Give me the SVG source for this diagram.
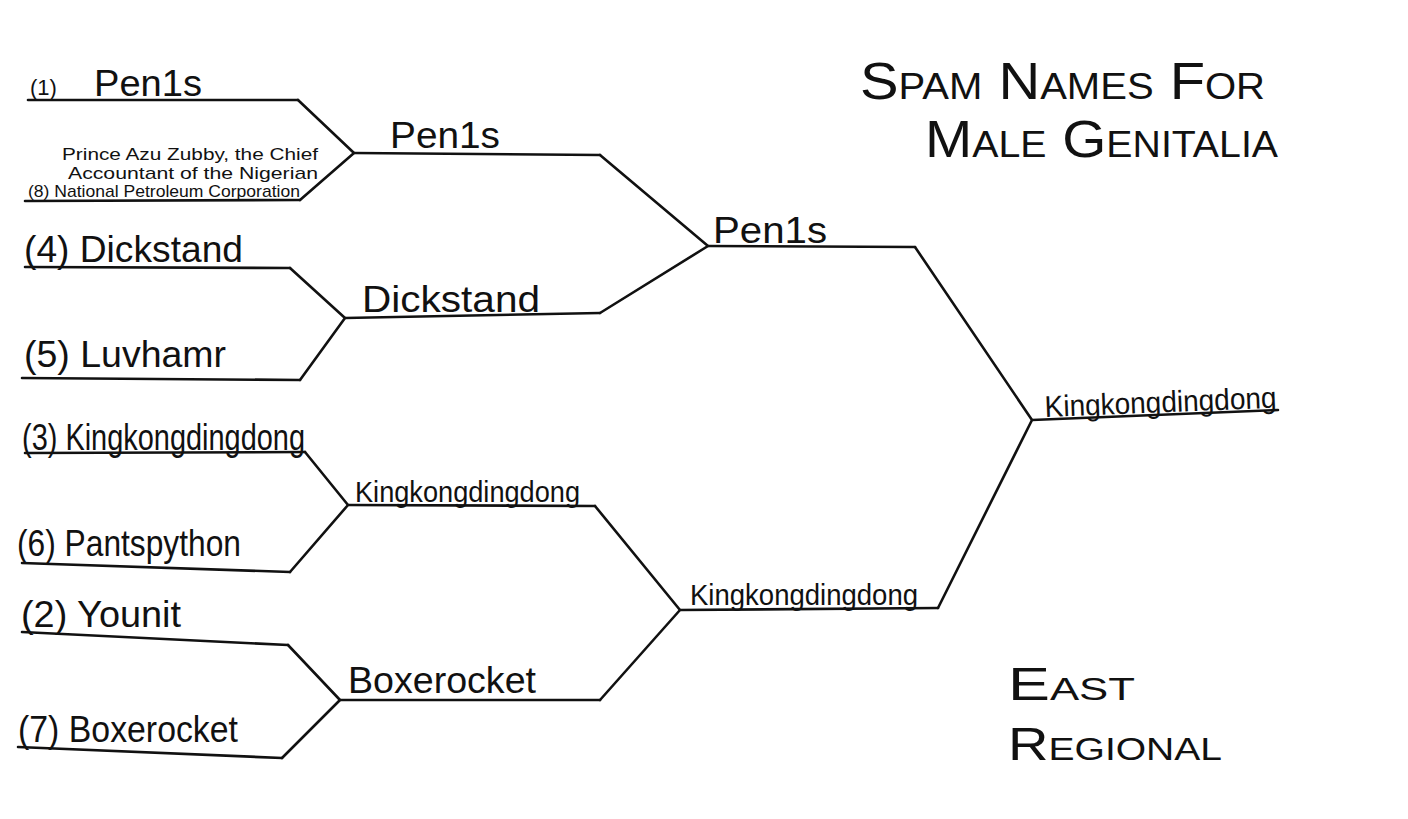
<svg xmlns="http://www.w3.org/2000/svg" width="1408" height="819" viewBox="0 0 1408 819">
<style>
.bg{fill:#ffffff}
.ln{fill:none;stroke:#111;stroke-width:2.6;stroke-linecap:round;stroke-linejoin:round}
.t{font-family:"Liberation Sans","DejaVu Sans",sans-serif;fill:#111}
.seed{font-size:22px}
.big{font-size:36px}
.mid{font-size:30px}
.sm{font-size:17px}
.title{font-size:52px;font-variant:small-caps}
.sub{font-size:46px;font-variant:small-caps}
</style>
<rect class="bg" x="0" y="0" width="1408" height="819"/>
<g id="title">
<text class="t title" x="860" y="99" textLength="405" lengthAdjust="spacingAndGlyphs">Spam Names For</text>
<text class="t title" x="925" y="157" textLength="353" lengthAdjust="spacingAndGlyphs">Male Genitalia</text>
</g>
<g id="region">
<text class="t sub" x="1008" y="700" textLength="127" lengthAdjust="spacingAndGlyphs">East</text>
<text class="t sub" x="1008" y="760" textLength="214" lengthAdjust="spacingAndGlyphs">Regional</text>
</g>
<g id="connectors">
<path class="ln" d="M298,100 L354,153 L300,200"/>
<path class="ln" d="M290,268 L345,318 L300,380"/>
<path class="ln" d="M305,452 L348,505 L290,572"/>
<path class="ln" d="M288,645 L340,700 L282,758"/>
<path class="ln" d="M600,155 L708,246 L600,313"/>
<path class="ln" d="M595,506 L680,610 L600,700"/>
<path class="ln" d="M915,247 L1032,420 L938,608"/>
</g>
<g id="seed1">
<path class="ln" d="M28,100 L298,100"/>
<text class="t seed" x="30" y="95">(1)</text>
<text class="t big" x="94" y="96" textLength="108" lengthAdjust="spacingAndGlyphs">Pen1s</text>
</g>
<g id="seed8">
<path class="ln" d="M25,201 L300,200"/>
<text class="t sm" x="62" y="160" textLength="256" lengthAdjust="spacingAndGlyphs">Prince Azu Zubby, the Chief</text>
<text class="t sm" x="68" y="179" textLength="250" lengthAdjust="spacingAndGlyphs">Accountant of the Nigerian</text>
<text class="t sm" x="28" y="197" textLength="272" lengthAdjust="spacingAndGlyphs">(8) National Petroleum Corporation</text>
</g>
<g id="seed4">
<path class="ln" d="M25,267 L290,268"/>
<text class="t big" x="24" y="262" textLength="219" lengthAdjust="spacingAndGlyphs">(4) Dickstand</text>
</g>
<g id="seed5">
<path class="ln" d="M22,378 L300,380"/>
<text class="t big" x="24" y="367" textLength="202" lengthAdjust="spacingAndGlyphs">(5) Luvhamr</text>
</g>
<g id="seed3">
<path class="ln" d="M25,453 L305,452"/>
<text class="t big" x="22" y="450" textLength="283" lengthAdjust="spacingAndGlyphs">(3) Kingkongdingdong</text>
</g>
<g id="seed6">
<path class="ln" d="M22,563 L290,572"/>
<text class="t big" x="17" y="556" textLength="224" lengthAdjust="spacingAndGlyphs">(6) Pantspython</text>
</g>
<g id="seed2">
<path class="ln" d="M22,632 L288,645"/>
<text class="t big" x="21" y="627" textLength="160" lengthAdjust="spacingAndGlyphs">(2) Younit</text>
</g>
<g id="seed7">
<path class="ln" d="M18,747 L282,758"/>
<text class="t big" x="18" y="742" textLength="220" lengthAdjust="spacingAndGlyphs">(7) Boxerocket</text>
</g>
<g id="r2-pen1s">
<path class="ln" d="M354,153 L600,155"/>
<text class="t big" x="390" y="148" textLength="110" lengthAdjust="spacingAndGlyphs">Pen1s</text>
</g>
<g id="r2-dickstand">
<path class="ln" d="M345,318 L600,313"/>
<text class="t big" x="362" y="312" textLength="178" lengthAdjust="spacingAndGlyphs">Dickstand</text>
</g>
<g id="r2-kingkong">
<path class="ln" d="M348,505 L595,506"/>
<text class="t mid" x="355" y="502" textLength="225" lengthAdjust="spacingAndGlyphs">Kingkongdingdong</text>
</g>
<g id="r2-boxerocket">
<path class="ln" d="M340,700 L600,700"/>
<text class="t big" x="348" y="693" textLength="188" lengthAdjust="spacingAndGlyphs">Boxerocket</text>
</g>
<g id="r3-pen1s">
<path class="ln" d="M708,246 L915,247"/>
<text class="t big" x="713" y="243" textLength="114" lengthAdjust="spacingAndGlyphs">Pen1s</text>
</g>
<g id="r3-kingkong">
<path class="ln" d="M680,610 L938,608"/>
<text class="t mid" x="690" y="605" textLength="228" lengthAdjust="spacingAndGlyphs">Kingkongdingdong</text>
</g>
<g id="winner">
<path class="ln" d="M1032,420 L1278,410"/>
<text class="t mid" x="1045" y="417" textLength="232" lengthAdjust="spacingAndGlyphs" transform="rotate(-2.3 1045 417)">Kingkongdingdong</text>
</g>
</svg>
